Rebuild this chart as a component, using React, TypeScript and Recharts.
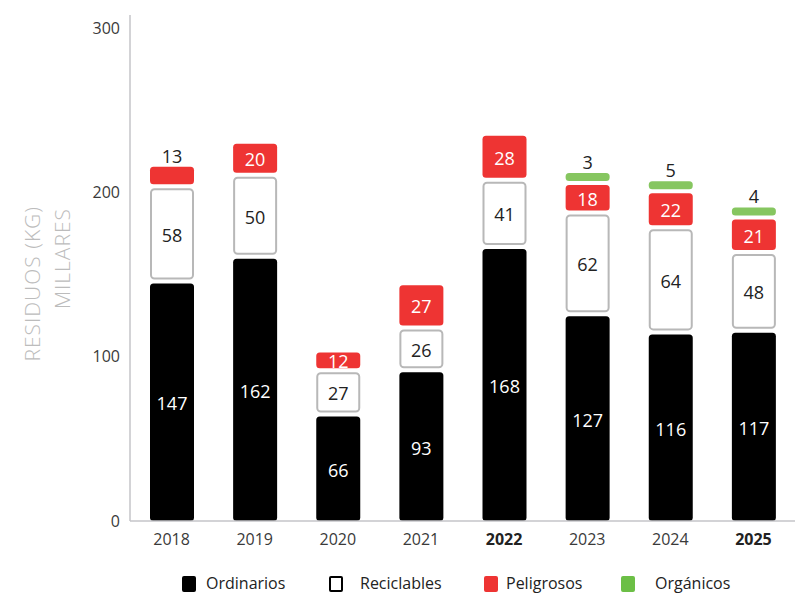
import React from 'react';
import { BarChart, Bar, XAxis, YAxis, LabelList } from 'recharts';

// Data
const years = ['2018', '2019', '2020', '2021', '2022', '2023', '2024', '2025'];
const ordinarios = [147, 162, 66, 93, 168, 127, 116, 117];
const reciclables = [58, 50, 27, 26, 41, 62, 64, 48];
const peligrosos = [13, 20, 12, 27, 28, 18, 22, 21];
const organicos = [0, 0, 0, 0, 0, 3, 5, 4];
const yTicks = [0, 100, 200, 300];
const boldYears = ['2022', '2025'];
const peligrososLabelAbove = ['2018'];

const COLORS = {
  ordinarios: '#000000',
  reciclables: '#ffffff',
  reciclablesStroke: '#b8b8b8',
  peligrosos: '#ee3433',
  organicos: '#86c660',
  legendGreen: '#6cbf46',
  axis: '#c4c4c8',
  tick: '#3a3a3a',
  yLabel: '#bcbcbc',
};

const GAP = 4;

const chartData = years.map((year, i) => ({
  year,
  ordinarios: ordinarios[i],
  reciclables: reciclables[i],
  peligrosos: peligrosos[i],
  organicos: organicos[i],
}));

const makeShape = (key: string, fill: string, stroke?: string) => (props: any) => {
  const x = Number(props.x);
  const y = Number(props.y);
  const width = Number(props.width);
  const height = Number(props.height);
  if (!props.payload || !props.payload[key] || !height || height <= 0) return <g />;
  const h = Math.max(height - GAP, 2);
  const s = stroke ? 1 : 0;
  return (
    <rect
      x={x + s}
      y={y + GAP + s}
      width={width - 2 * s}
      height={h - 2 * s}
      rx={3.5}
      ry={3.5}
      fill={fill}
      stroke={stroke}
      strokeWidth={stroke ? 2 : 0}
    />
  );
};

const centerLabel = (color: string) => (p: any) => {
  const { value } = p;
  if (!value) return null;
  const x = Number(p.x);
  const y = Number(p.y);
  const width = Number(p.width);
  const height = Number(p.height);
  return (
    <text
      x={x + width / 2}
      y={y + height / 2 + GAP / 2 + 1}
      textAnchor="middle"
      dominantBaseline="central"
      fill={color}
      fontSize={18}
    >
      {value}
    </text>
  );
};

const aboveLabel = (p: any) => {
  const { value } = p;
  if (!value) return null;
  const x = Number(p.x);
  const y = Number(p.y);
  const width = Number(p.width);
  return (
    <text x={x + width / 2} y={y + GAP - 11} textAnchor="middle" dominantBaseline="central" fill="#222" fontSize={18}>
      {value}
    </text>
  );
};

const peligrososLabel = (p: any) => {
  const year = years[p.index];
  if (peligrososLabelAbove.includes(year)) return aboveLabel(p);
  return centerLabel('#ffffff')(p);
};

const XTick = (props: any) => {
  const { x, y, payload } = props;
  const bold = boldYears.includes(payload.value);
  return (
    <text x={x} y={y} dy="0.71em" textAnchor="middle" fill={bold ? '#222' : COLORS.tick} fontSize={16} fontWeight={bold ? 700 : 400}>
      {payload.value}
    </text>
  );
};

const YAxisTitle = () => (
  <g fill={COLORS.yLabel} fontSize={21} fontWeight={300} letterSpacing={1}>
    <text transform="translate(40, 206) rotate(-90)" textAnchor="end">RESIDUOS (KG)</text>
    <text transform="translate(70, 208) rotate(-90)" textAnchor="end">MILLARES</text>
  </g>
);

const legendItems = [
  { name: 'Ordinarios', box: { background: '#000', border: '2px solid #000' }, left: 182, textLeft: 206 },
  { name: 'Reciclables', box: { background: '#fff', border: '2px solid #000' }, left: 329, textLeft: 360 },
  { name: 'Peligrosos', box: { background: COLORS.peligrosos, border: `2px solid ${COLORS.peligrosos}` }, left: 484, textLeft: 506 },
  { name: 'Orgánicos', box: { background: COLORS.legendGreen, border: `2px solid ${COLORS.legendGreen}` }, left: 621, textLeft: 655 },
];

const App: React.FC = () => {
  return (
    <div style={{ position: 'relative', width: 795, height: 596, fontFamily: "'Open Sans', sans-serif", background: '#fff' }}>
      <style>{'body { margin: 0; }'}</style>
      <BarChart
        width={795}
        height={596}
        data={chartData}
        margin={{ top: 15, right: 0, bottom: 45, left: 0 }}
        barSize={44}
      >
        <XAxis
          dataKey="year"
          height={30}
          axisLine={{ stroke: COLORS.axis, strokeWidth: 1.5 }}
          tickLine={false}
          tickSize={0}
          tickMargin={13}
          tick={<XTick />}
          interval={0}
        />
        <YAxis
          width={130}
          domain={[0, 308]}
          ticks={yTicks}
          axisLine={{ stroke: COLORS.axis, strokeWidth: 1.5 }}
          tickLine={false}
          tickSize={0}
          tickMargin={10}
          tick={{ fill: COLORS.tick, fontSize: 16 }}
          label={{ content: () => <YAxisTitle /> }}
        />
        <Bar dataKey="ordinarios" stackId="a" isAnimationActive={false} shape={makeShape('ordinarios', COLORS.ordinarios)}>
          <LabelList dataKey="ordinarios" content={centerLabel('#ffffff')} />
        </Bar>
        <Bar dataKey="reciclables" stackId="a" isAnimationActive={false} shape={makeShape('reciclables', COLORS.reciclables, COLORS.reciclablesStroke)}>
          <LabelList dataKey="reciclables" content={centerLabel('#222222')} />
        </Bar>
        <Bar dataKey="peligrosos" stackId="a" isAnimationActive={false} shape={makeShape('peligrosos', COLORS.peligrosos)}>
          <LabelList dataKey="peligrosos" content={peligrososLabel} />
        </Bar>
        <Bar
          dataKey="organicos"
          stackId="a"
          isAnimationActive={false}
          minPointSize={(_v: any, i: number) => (organicos[i] ? 12 : 0)}
          shape={makeShape('organicos', COLORS.organicos)}
        >
          <LabelList dataKey="organicos" content={aboveLabel} />
        </Bar>
      </BarChart>

      {/* Legend */}
      {legendItems.map((item) => (
        <React.Fragment key={item.name}>
          <div
            style={{
              position: 'absolute',
              left: item.left,
              top: 576,
              width: 10,
              height: 12,
              borderRadius: 2,
              boxSizing: 'content-box',
              ...item.box,
            }}
          />
          <div style={{ position: 'absolute', left: item.textLeft, top: 572, fontSize: 16, color: '#222', lineHeight: '22px' }}>
            {item.name}
          </div>
        </React.Fragment>
      ))}
    </div>
  );
};

export default App;
